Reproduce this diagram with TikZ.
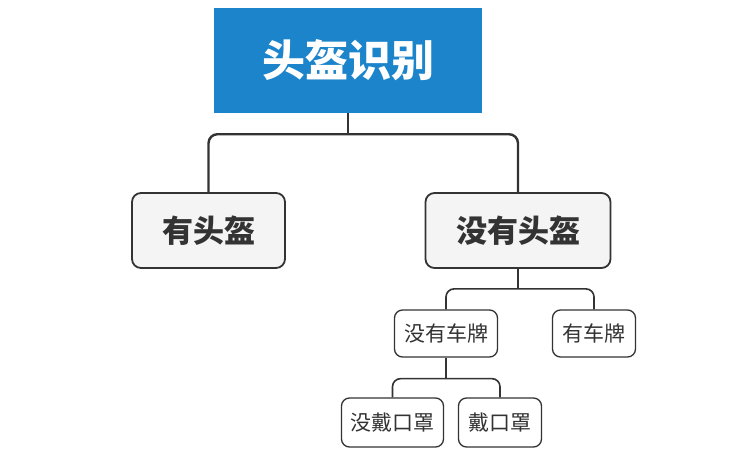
\documentclass[tikz,border=0pt]{standalone}
\usepackage{fontspec}
\setmainfont{Noto Sans CJK SC}
\usepackage{tikz}
\usetikzlibrary{positioning}
\usepackage{xcolor}
\definecolor{rootBlue}{HTML}{1B84CB}
\definecolor{boxGray}{HTML}{F4F4F4}
\definecolor{lineDark}{HTML}{333333}

\begin{document}
\begin{tikzpicture}[
    x=1pt, y=-1pt,
    root/.style={rectangle, fill=rootBlue, text=white, font=\fontsize{43}{43}\selectfont\bfseries, inner sep=0pt},
    topic/.style={rectangle, draw=lineDark, line width=1.8pt, rounded corners=9pt, fill=boxGray, text=lineDark, font=\fontsize{31}{31}\selectfont\bfseries, inner sep=0pt},
    sub/.style={rectangle, draw=lineDark, line width=1.3pt, rounded corners=8pt, fill=white, text=lineDark, font=\fontsize{21}{21}\selectfont, inner sep=0pt},
    link/.style={draw=lineDark, line width=2.4pt, rounded corners=9pt},
    sublink/.style={draw=lineDark, line width=1.6pt, rounded corners=8pt},
]
    \useasboundingbox (0,0) rectangle (740,453);
    \node[root, minimum width=268pt, minimum height=105pt] (helmet) at (348,60.5) {头盔识别};
    \node[topic, minimum width=153pt, minimum height=75pt] (withHelmet) at (208.5,230.5) {有头盔};
    \node[topic, minimum width=185pt, minimum height=75pt] (noHelmet) at (518,230.5) {没有头盔};
    \node[sub, minimum width=103pt, minimum height=47pt] (noPlate) at (446,333.5) {没有车牌};
    \node[sub, minimum width=83pt, minimum height=47pt] (withPlate) at (594,333.5) {有车牌};
    \node[sub, minimum width=102pt, minimum height=49pt] (noMask) at (392.5,422.5) {没戴口罩};
    \node[sub, minimum width=83pt, minimum height=49pt] (withMask) at (500,422.5) {戴口罩};

    \coordinate (bar1) at ([yshift=-21pt]helmet.south);
    \coordinate (bar2) at ([yshift=-20pt]noHelmet.south);
    \coordinate (bar3) at ([yshift=-21pt]noPlate.south);
    \draw[link] (helmet.south) -- (bar1);
    \draw[link] (withHelmet.north) |- (bar1) -| (noHelmet.north);
    \draw[sublink] (noHelmet.south) -- (bar2);
    \draw[sublink] (noPlate.north) |- (bar2) -| (withPlate.north);
    \draw[sublink] (noPlate.south) -- (bar3);
    \draw[sublink] (noMask.north) |- (bar3) -| (withMask.north);
\end{tikzpicture}
\end{document}
